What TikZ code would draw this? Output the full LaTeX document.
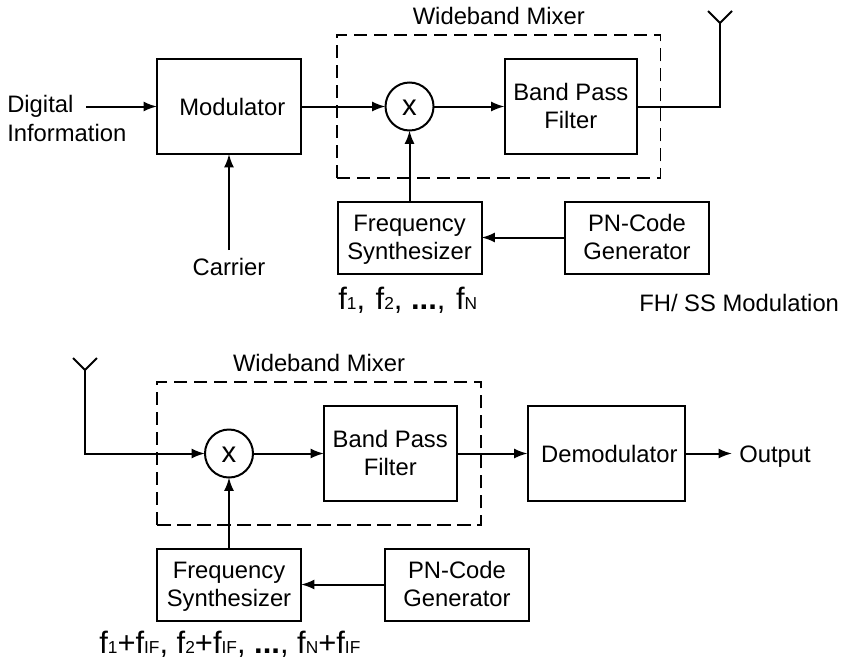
\documentclass[tikz,border=0pt]{standalone}
\usepackage{fontspec}
\setmainfont{Liberation Sans}
\usetikzlibrary{arrows.meta,positioning}
\newcommand{\subs}[1]{{\fontsize{13}{14}\selectfont #1}}
\begin{document}
\begin{tikzpicture}[>=Latex, x=0.75pt, y=-0.75pt, line join=miter,
		node distance=53.25pt and 62.6pt]
		
		% Styles
		\tikzset{
			base/.style={draw=black, line width=1.5pt, outer sep=0pt, inner sep=0pt,
				align=center, font=\fontsize{17.85}{21}\selectfont},
			block/.style={base, minimum width=108pt, minimum height=71.25pt,
				text height=13.5pt, text depth=0pt},
			demod/.style={block, minimum width=117.75pt},
			filter/.style={base, minimum width=99.4pt, minimum height=71.25pt,
				text height=35.5pt, text depth=2.5pt},
			small/.style={base, minimum width=108pt, minimum height=54pt,
				text height=35.5pt, text depth=2.5pt},
			mixer/.style={base, circle, minimum size=36pt, font=\fontsize{22}{24}\selectfont,
				text height=14pt, text depth=0pt},
			wideband/.style={draw=black, line width=1.35pt, dash pattern=on 10pt off 5pt,
				minimum width=242.6pt, minimum height=107.25pt, outer sep=0pt},
			arr/.style={-{Latex[length=10pt,width=7.5pt]}, line width=1.5pt},
			wire/.style={line width=1.5pt},
			lbl/.style={font=\fontsize{17.85}{21.75}\selectfont, align=left, inner sep=0pt},
			freq/.style={font=\fontsize{23.2}{26}\selectfont, inner sep=0pt, anchor=base west}
		}
		
		\useasboundingbox (0,0) rectangle (842,661);
		
		% Transmitter
		\node[block] (ModBox) at (229,106.5) {\hspace*{5pt}Modulator};
		\node[mixer, right=63.4pt of ModBox] (MixTop) {x};
		\node[filter, right=53.25pt of MixTop] (BpfTop) {Band Pass\\Filter};
		\node[small, below=of MixTop] (FreqTop) {Frequency\\Synthesizer};
		\node[small, right=of FreqTop] (PnTop) {PN-Code\\Generator};
		\node[wideband] (WideTop) at (498.75,106.5) {};
		\node[lbl, above=7.5pt of WideTop] (WideTopLbl) {Wideband Mixer};
		
		\node[lbl, anchor=west] (DigInfo) at (7,118) {Digital\\Information};
		\node[lbl] (Carrier) at (229,267) {Carrier};
		\node[freq] (FreqTopLbl) at (338,309) {f\subs{1},\hspace{1.5pt} f\subs{2}, \textbf{...},\hspace{1.5pt} f\subs{N}};
		\node[lbl, anchor=base west] (FhLbl) at (639,311) {FH/ SS Modulation};
		
		\coordinate (DigIn) at (86,106.5);
		\coordinate (CarrierUp) at (229,250);
		\coordinate (AntTop) at (720,23);
		
		% Arrows
		\draw[arr] (DigIn) -- (ModBox);
		\draw[arr] (CarrierUp) -- (ModBox);
		\draw[arr] (ModBox) -- (MixTop);
		\draw[arr] (MixTop) -- (BpfTop);
		\draw[arr] (FreqTop) -- (MixTop);
		\draw[arr] (PnTop) -- (FreqTop);
		\draw[wire] (BpfTop) -| (AntTop);
		\draw[wire] (AntTop) ++(-12,-12) -- (AntTop) -- ++(12,-12);
		
		% Receiver
		\node[mixer] (MixBot) at (229,453.5) {x};
		\node[filter, right=53.25pt of MixBot] (BpfBot) {Band Pass\\Filter};
		\node[demod, right=53.25pt of BpfBot] (DemBot) {\hspace*{5pt}Demodulator};
		\node[small, below=of MixBot] (FreqBot) {Frequency\\Synthesizer};
		\node[small, right=63pt of FreqBot] (PnBot) {PN-Code\\Generator};
		\node[wideband] (WideBot) at (319,453.5) {};
		\node[lbl, above=7.5pt of WideBot] (WideBotLbl) {Wideband Mixer};
		
		\node[lbl, anchor=west, inner xsep=5.25pt, text height=13.5pt, text depth=0pt] (OutLbl) at (732,453.5) {Output};
		\node[freq] (FreqBotLbl) at (99,653.5) {f\subs{1}+f\subs{IF}, f\subs{2}+f\subs{IF}, \textbf{...}, f\subs{N}+f\subs{IF}};
		
		\coordinate (AntBot) at (85,370);
		
		\draw[arr] (AntBot) |- (MixBot);
		\draw[wire] (AntBot) ++(-12,-12) -- (AntBot) -- ++(12,-12);
		\draw[arr] (MixBot) -- (BpfBot);
		\draw[arr] (BpfBot) -- (DemBot);
		\draw[arr] (DemBot) -- (OutLbl);
		\draw[arr] (FreqBot) -- (MixBot);
		\draw[arr] (PnBot) -- (FreqBot);
		
	\end{tikzpicture}
\end{document}
